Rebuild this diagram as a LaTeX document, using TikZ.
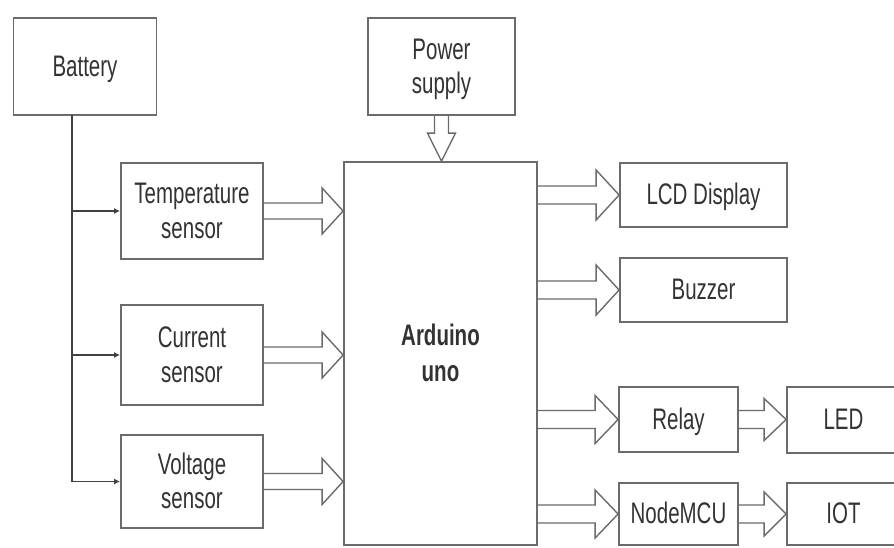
\documentclass[tikz,border=0pt]{standalone}
\usepackage{fontspec}
\setmainfont{Liberation Sans}
\usetikzlibrary{arrows.meta,calc}
\definecolor{linegray}{gray}{0.42}
\definecolor{txtgray}{gray}{0.2}
\newcommand\lbl[1]{\raisebox{-3pt}[\height][\depth]{\scalebox{1}[1.45]{\begin{tabular}{@{}c@{}}#1\end{tabular}}}}
% hollow block arrow: from, to, shaft half-width, head half-width, head length
\newcommand\harrow[5]{\draw[blockarrow] let \p1=(#1), \p2=(#2) in
  (\x1,\y1+#3) -- (\x2-#5,\y1+#3) -- (\x2-#5,\y1+#4) -- (\x2,\y1) --
  (\x2-#5,\y1-#4) -- (\x2-#5,\y1-#3) -- (\x1,\y1-#3);}
\tikzset{
  box/.style={draw=linegray, line width=1.8pt, inner sep=0pt, align=center,
    text=txtgray, font=\fontsize{20.5}{24}\selectfont},
  blockarrow/.style={draw=linegray, line width=1.4pt, line join=miter},
  feed/.style={draw=black!75, line width=1.3pt},
  feedarrow/.style={feed, -{Latex[length=6pt,width=6pt]}}
}
\begin{document}
\begin{tikzpicture}[x=1pt,y=-1pt]
\path[use as bounding box, fill=white] (0,0) rectangle (894,547);
\clip (0,0) rectangle (894,547);

\node[box, minimum width=143pt, minimum height=97pt] (battery) at (85,66.5) {\lbl{Battery}};
\node[box, minimum width=147pt, minimum height=97pt] (pwr) at (441.5,66.5) {\lbl{Power\\supply}};
\node[box, minimum width=142pt, minimum height=96pt] (temp) at (192,211) {\lbl{Temperature\\sensor}};
\node[box, minimum width=142pt, minimum height=100pt] (cur) at (192,355) {\lbl{Current\\sensor}};
\node[box, minimum width=142pt, minimum height=93pt] (volt) at (192,481.5) {\lbl{Voltage\\sensor}};
\node[box, minimum width=193pt, minimum height=383pt, font=\fontsize{20.5}{25}\selectfont\bfseries] (ard) at (440.5,353.5) {\lbl{Arduino\\uno}};
\node[box, minimum width=167pt, minimum height=64pt] (lcd) at (703.5,195) {\lbl{LCD Display}};
\node[box, minimum width=167pt, minimum height=64pt] (buz) at (703.5,290) {\lbl{Buzzer}};
\node[box, minimum width=119pt, minimum height=65pt] (relay) at (678.5,419.5) {\lbl{Relay}};
\node[box, minimum width=119pt, minimum height=62pt] (mcu) at (678.5,514) {\lbl{NodeMCU}};
\node[box, minimum width=113pt, minimum height=66pt] (led) at (843.5,420) {\lbl{LED}};
\node[box, minimum width=113pt, minimum height=62pt] (iot) at (843.5,514) {\lbl{IOT}};

% battery feed lines
\coordinate (bt) at (72,115);
\draw[feed] (bt) -- (bt |- volt.west);
\draw[feedarrow] (bt |- temp.west) -- (temp.west);
\draw[feedarrow] (bt |- cur.west) -- (cur.west);
\draw[feedarrow] (bt |- volt.west) -- (volt.west);

% sensors to Arduino
\harrow{temp.east}{ard.west |- temp.east}{8pt}{23pt}{21pt}
\harrow{cur.east}{ard.west |- cur.east}{8pt}{23pt}{21pt}
\harrow{volt.east}{ard.west |- volt.east}{8pt}{23pt}{21pt}

% power supply to Arduino
\draw[blockarrow] let \p1=(pwr.south), \p2=(ard.north) in
  (\x1-7pt,\y1) -- (\x1-7pt,\y2+28pt) -- (\x1-14pt,\y2+28pt) -- (\x1,\y2) --
  (\x1+14pt,\y2+28pt) -- (\x1+7pt,\y2+28pt) -- (\x1+7pt,\y1);

% Arduino to outputs
\harrow{ard.east |- lcd.west}{lcd.west}{9pt}{25pt}{23pt}
\harrow{ard.east |- buz.west}{buz.west}{9pt}{25pt}{23pt}
\harrow{ard.east |- relay.west}{relay.west}{9pt}{24pt}{23pt}
\harrow{ard.east |- mcu.west}{mcu.west}{9pt}{24pt}{23pt}

% second stage
\harrow{relay.east}{led.west}{9pt}{21pt}{22pt}
\harrow{mcu.east}{iot.west}{9pt}{22pt}{22pt}
\end{tikzpicture}
\end{document}
